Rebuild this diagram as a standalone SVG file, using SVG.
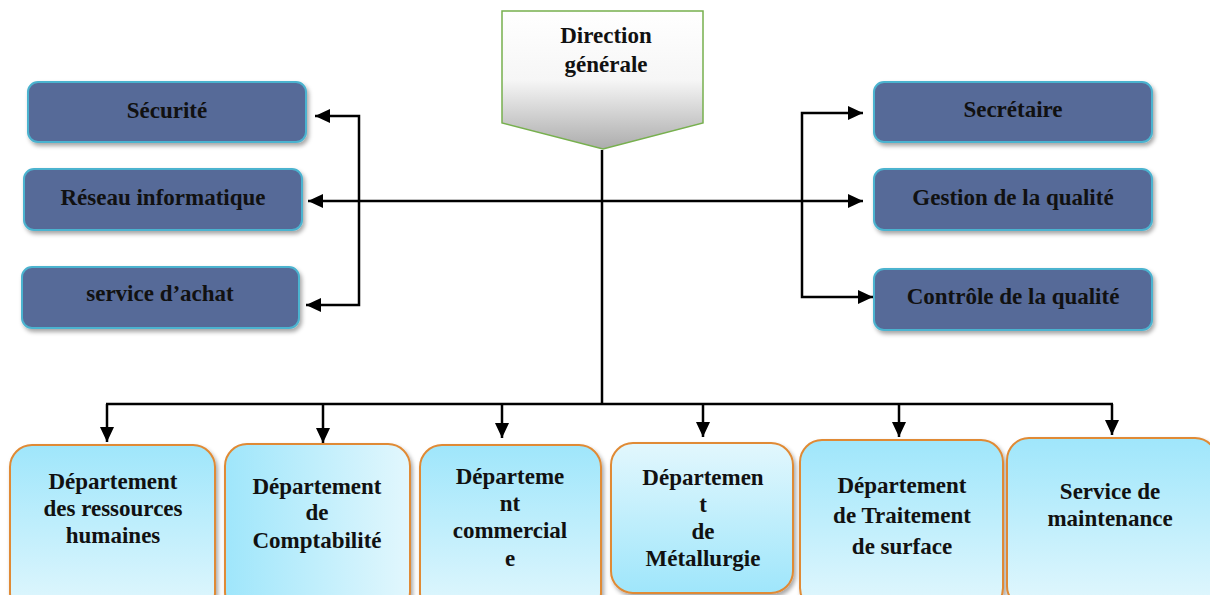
<svg xmlns="http://www.w3.org/2000/svg" width="1210" height="595" viewBox="0 0 1210 595">
<style>
.t{font-family:"Liberation Serif","Times New Roman",serif;font-weight:bold;font-size:23px;fill:#111;text-anchor:middle}
.side{fill:#566a98;stroke:#4bb3cf;stroke-width:2;filter:url(#sh)}
.dept{stroke:#e08a34;stroke-width:2;filter:url(#sh)}
.c{fill:none;stroke:#000;stroke-width:2.5}
</style>
<defs>
<filter id="sh" x="-10%" y="-10%" width="125%" height="130%">
<feDropShadow dx="2" dy="3" stdDeviation="2" flood-color="#000" flood-opacity="0.35"/>
</filter>
<linearGradient id="gv" x1="0" y1="0" x2="0" y2="1">
<stop offset="0" stop-color="#9fe6fb"/><stop offset="1" stop-color="#e2f7fd"/>
</linearGradient>
<linearGradient id="gvr" x1="0" y1="0" x2="0" y2="1">
<stop offset="0" stop-color="#e2f7fd"/><stop offset="1" stop-color="#9fe6fb"/>
</linearGradient>
<linearGradient id="gh" x1="0" y1="0" x2="1" y2="0">
<stop offset="0" stop-color="#9fe6fb"/><stop offset="1" stop-color="#e2f7fd"/>
</linearGradient>
<linearGradient id="gdir" x1="0" y1="0" x2="0" y2="1">
<stop offset="0" stop-color="#ffffff"/><stop offset="0.5" stop-color="#f6f6f6"/><stop offset="1" stop-color="#acacac"/>
</linearGradient>
<marker id="ar" markerUnits="userSpaceOnUse" markerWidth="16" markerHeight="14" refX="15" refY="7" orient="auto-start-reverse">
<path d="M0,0 L15,7 L0,14 z" fill="#000"/>
</marker>
</defs>

<g id="connectors">
<path class="c" d="M602,150 V404"/>
<path class="c" d="M106,404 H1113"/>
<path class="c" d="M602,201 H308" marker-end="url(#ar)"/>
<path class="c" d="M602,201 H863" marker-end="url(#ar)"/>
<path class="c" d="M315,116 H359 V305 H306" marker-start="url(#ar)" marker-end="url(#ar)"/>
<path class="c" d="M863,113 H802 V297 H873" marker-start="url(#ar)" marker-end="url(#ar)"/>
<path class="c" d="M107,404 V442" marker-end="url(#ar)"/>
<path class="c" d="M323,404 V443" marker-end="url(#ar)"/>
<path class="c" d="M502,404 V438" marker-end="url(#ar)"/>
<path class="c" d="M703,404 V437" marker-end="url(#ar)"/>
<path class="c" d="M899,404 V437" marker-end="url(#ar)"/>
<path class="c" d="M1112,404 V435" marker-end="url(#ar)"/>
</g>

<g id="direction">
<path d="M502,11 H703 V123 L603,149 L502,123 Z" fill="url(#gdir)" stroke="#77b04e" stroke-width="1.5"/>
<text class="t" x="606" y="43">Direction</text>
<text class="t" x="606" y="72">générale</text>
</g>

<g id="securite"><rect class="side" x="28" y="82" width="278" height="60" rx="10"/><text class="t" x="167" y="118">Sécurité</text></g>
<g id="reseau"><rect class="side" x="24" y="169" width="278" height="61" rx="10"/><text class="t" x="163" y="205">Réseau informatique</text></g>
<g id="achat"><rect class="side" x="22" y="267" width="277" height="61" rx="10"/><text class="t" x="160" y="301">service d’achat</text></g>

<g id="secretaire"><rect class="side" x="874" y="82" width="278" height="60" rx="10"/><text class="t" x="1013" y="117">Secrétaire</text></g>
<g id="gestion"><rect class="side" x="874" y="169" width="278" height="61" rx="10"/><text class="t" x="1013" y="205">Gestion de la qualité</text></g>
<g id="controle"><rect class="side" x="874" y="269" width="278" height="61" rx="10"/><text class="t" x="1013" y="304">Contrôle de la qualité</text></g>

<g id="rh"><rect class="dept" x="10" y="445" width="205" height="170" rx="22" fill="url(#gv)"/>
<text class="t" x="113" y="489">Département</text><text class="t" x="113" y="516">des ressources</text><text class="t" x="113" y="543">humaines</text></g>
<g id="compta"><rect class="dept" x="225" y="444" width="185" height="170" rx="22" fill="url(#gh)"/>
<text class="t" x="317" y="494">Département</text><text class="t" x="317" y="520">de</text><text class="t" x="317" y="548">Comptabilité</text></g>
<g id="commercial"><rect class="dept" x="420" y="445" width="181" height="170" rx="22" fill="url(#gv)"/>
<text class="t" x="510" y="484">Départeme</text><text class="t" x="510" y="511">nt</text><text class="t" x="510" y="538">commercial</text><text class="t" x="510" y="566">e</text></g>
<g id="metallurgie"><rect class="dept" x="611" y="443" width="182" height="150" rx="22" fill="url(#gvr)"/>
<text class="t" x="703" y="485">Départemen</text><text class="t" x="703" y="512">t</text><text class="t" x="703" y="539">de</text><text class="t" x="703" y="566">Métallurgie</text></g>
<g id="traitement"><rect class="dept" x="800" y="440" width="203" height="170" rx="22" fill="url(#gv)"/>
<text class="t" x="902" y="493">Département</text><text class="t" x="902" y="523">de Traitement</text><text class="t" x="902" y="554">de surface</text></g>
<g id="maintenance"><rect class="dept" x="1007" y="438" width="210" height="170" rx="22" fill="url(#gv)"/>
<text class="t" x="1110" y="499">Service de</text><text class="t" x="1110" y="526">maintenance</text></g>
</svg>
